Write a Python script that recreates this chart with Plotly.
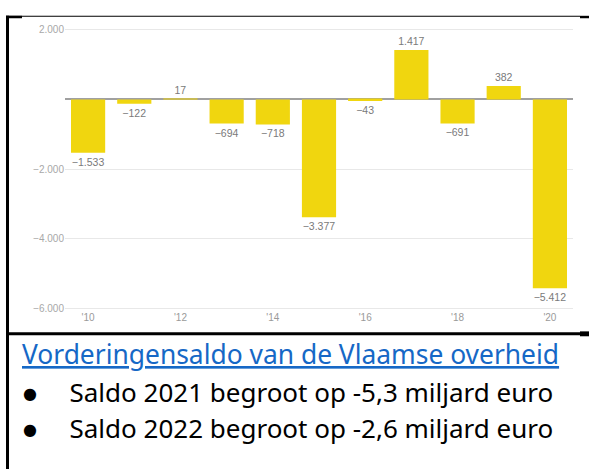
import plotly.graph_objects as go

# Vorderingensaldo Vlaamse overheid (mln euro)
years = ["'10", "'11", "'12", "'13", "'14", "'15", "'16", "'17", "'18", "'19", "'20"]
saldo = [-1533, -122, 17, -694, -718, -3377, -43, 1417, -691, 382, -5412]
tick_years = ["'10", "'12", "'14", "'16", "'18", "'20"]
y_ticks = [2000, 0, -2000, -4000, -6000]
y_ticktext = ["2.000", "", "\u22122.000", "\u22124.000", "\u22126.000"]

title_text = "Vorderingensaldo van de Vlaamse overheid"
bullets = [
    "Saldo 2021 begroot op -5,3 miljard euro",
    "Saldo 2022 begroot op -2,6 miljard euro",
]

W, H = 589, 473


def fmt(v):
    s = f"{abs(v):,}".replace(",", ".")
    return ("\u2212" + s) if v < 0 else s


def px(x):
    return x / W


def py(y):
    return 1 - y / H


fig = go.Figure()
fig.add_trace(go.Bar(
    x=years, y=saldo,
    marker=dict(color="#F0D60F", line=dict(width=0)),
    text=[fmt(v) for v in saldo],
    textposition="outside",
    constraintext="none",
    cliponaxis=False,
    textfont=dict(family="Liberation Sans, Arial, sans-serif", size=10.5, color="#7a7a7a"),
    hoverinfo="skip",
))

fig.update_layout(
    width=W, height=H,
    margin=dict(l=0, r=0, t=0, b=0),
    paper_bgcolor="white", plot_bgcolor="white",
    showlegend=False,
    bargap=0.26,
    xaxis=dict(
        domain=[px(65), px(573)],
        tickmode="array", tickvals=tick_years, ticktext=tick_years,
        showgrid=False, zeroline=False, showline=False, ticks="",
        tickfont=dict(family="Liberation Sans, Arial, sans-serif", size=10, color="#9a9a9a"),
    ),
    yaxis=dict(
        domain=[py(311), py(25)],
        range=[-6030, 2030],
        tickmode="array", tickvals=y_ticks, ticktext=y_ticktext,
        showgrid=True, gridcolor="#e8e8e8", gridwidth=1,
        zeroline=True, zerolinecolor="#a0a0a0", zerolinewidth=2,
        showline=False, ticks="",
        tickfont=dict(family="Liberation Sans, Arial, sans-serif", size=10, color="#a8a8a8"),
    ),
)

# frame around the slide content
shapes = [
    dict(type="rect", x0=px(6), x1=px(9), y0=0, y1=py(12), fillcolor="black", line_width=0),
    dict(type="rect", x0=px(6), x1=px(580), y0=py(13), y1=py(12), fillcolor="black", line_width=0),
    dict(type="rect", x0=px(6), x1=px(22), y0=py(14.5), y1=py(12), fillcolor="black", line_width=0),
    dict(type="rect", x0=px(580), x1=px(589), y0=py(14.5), y1=py(12), fillcolor="black", line_width=0),
    dict(type="rect", x0=px(6), x1=px(580), y0=py(337), y1=py(334), fillcolor="black", line_width=0),
    dict(type="rect", x0=px(580), x1=px(589), y0=py(338), y1=py(333), fillcolor="black", line_width=0),
]
for s in shapes:
    s.update(xref="paper", yref="paper", layer="above")
fig.update_layout(shapes=shapes)

fig.add_annotation(
    text=f"<u>{title_text}</u>", xref="paper", yref="paper",
    x=px(20), y=py(356), xanchor="left", yanchor="middle", showarrow=False,
    font=dict(family="Noto Sans", size=26.4, color="#1668C6"),
)
bullet = "<span style='font-family:DejaVu Sans;font-size:16px;baseline-shift:3px'>\u25cf</span>"
for i, line in enumerate(bullets):
    yc = 395 + i * 36
    fig.add_annotation(
        text=bullet + "\u2003\u2005" + line,
        xref="paper", yref="paper",
        x=px(21), y=py(yc), xanchor="left", yanchor="middle", showarrow=False,
        font=dict(family="Noto Sans", size=26, color="black"),
    )

# drop the default 8px body margin so the figure sits at the window origin
fig.write_html("out.html", config={"displayModeBar": False},
               post_script="document.body.style.margin='0';")
